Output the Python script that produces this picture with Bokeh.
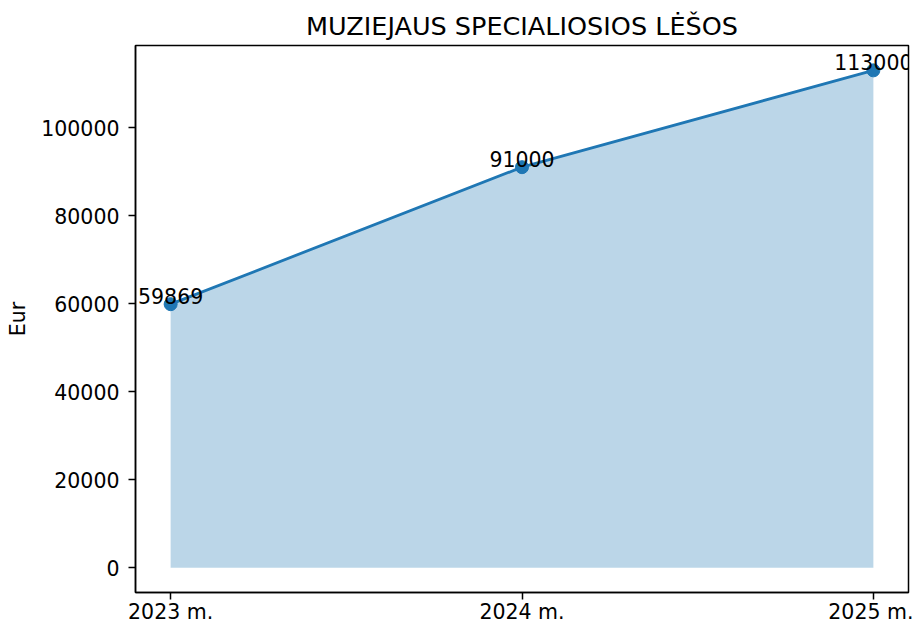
from bokeh.plotting import figure
from bokeh.models import ColumnDataSource, FixedTicker, NumeralTickFormatter, Range1d
from bokeh.core.properties import value
from bokeh.embed import file_html
from bokeh.resources import INLINE

years = ["2023 m.", "2024 m.", "2025 m."]
amounts = [59869, 91000, 113000]
y_ticks = [0, 20000, 40000, 60000, 80000, 100000]
title_text = "MUZIEJAUS SPECIALIOSIOS LĖŠOS"
y_label = "Eur"

xs = list(range(len(years)))
src = ColumnDataSource(dict(x=xs, y=amounts, base=[0] * len(xs),
                            lbl=[str(v) for v in amounts]))

ymax = max(amounts)
p = figure(width=913, height=626, output_backend="svg", toolbar_location=None,
           x_range=Range1d(-0.1, len(xs) - 1 + 0.1),
           y_range=Range1d(-0.05 * ymax, 1.05 * ymax),
           min_border_left=135, min_border_right=5,
           min_border_top=45, min_border_bottom=30)

FONT = "DejaVu Sans"
COLOR = "#1f77b4"
LBL = "20.5px"

p.title.text = title_text
p.title.align = "center"
p.title.text_font = FONT
p.title.text_font_size = "25.5px"
p.title.text_font_style = "normal"
p.title.text_color = "black"

p.varea(x="x", y1="base", y2="y", source=src, fill_color=COLOR, fill_alpha=0.3)
p.line(x="x", y="y", source=src, line_color=COLOR, line_width=2.8)
p.scatter(x="x", y="y", source=src, size=13, fill_color=COLOR, line_color=COLOR)
p.text(x="x", y="y", text="lbl", source=src, text_align="center",
       text_baseline="bottom", text_font=value(FONT), text_font_size=LBL,
       text_color="black")

p.xgrid.visible = False
p.ygrid.visible = False
p.outline_line_color = "black"
p.outline_line_width = 1.5

p.xaxis.ticker = FixedTicker(ticks=xs)
p.xaxis.major_label_overrides = {i: s for i, s in zip(xs, years)}
p.yaxis.ticker = FixedTicker(ticks=y_ticks)
p.yaxis.formatter = NumeralTickFormatter(format="0")
p.yaxis.axis_label = y_label
p.yaxis.axis_label_standoff = 8
p.yaxis.axis_label_text_font_style = "normal"

for ax in (p.xaxis, p.yaxis):
    ax.major_label_text_font = FONT
    ax.major_label_text_font_size = LBL
    ax.major_label_text_color = "black"
    ax.axis_label_text_font = FONT
    ax.axis_label_text_font_size = LBL
    ax.axis_label_text_color = "black"
    ax.major_tick_in = 0
    ax.major_tick_out = 7
    ax.major_tick_line_width = 1.5
    ax.major_tick_line_color = "black"
    ax.minor_tick_line_color = None
    ax.axis_line_color = "black"
    ax.axis_line_width = 1.5

p.xaxis.major_label_standoff = 0
p.yaxis.major_label_standoff = 9

open("out.html", "w").write(file_html(p, INLINE))
